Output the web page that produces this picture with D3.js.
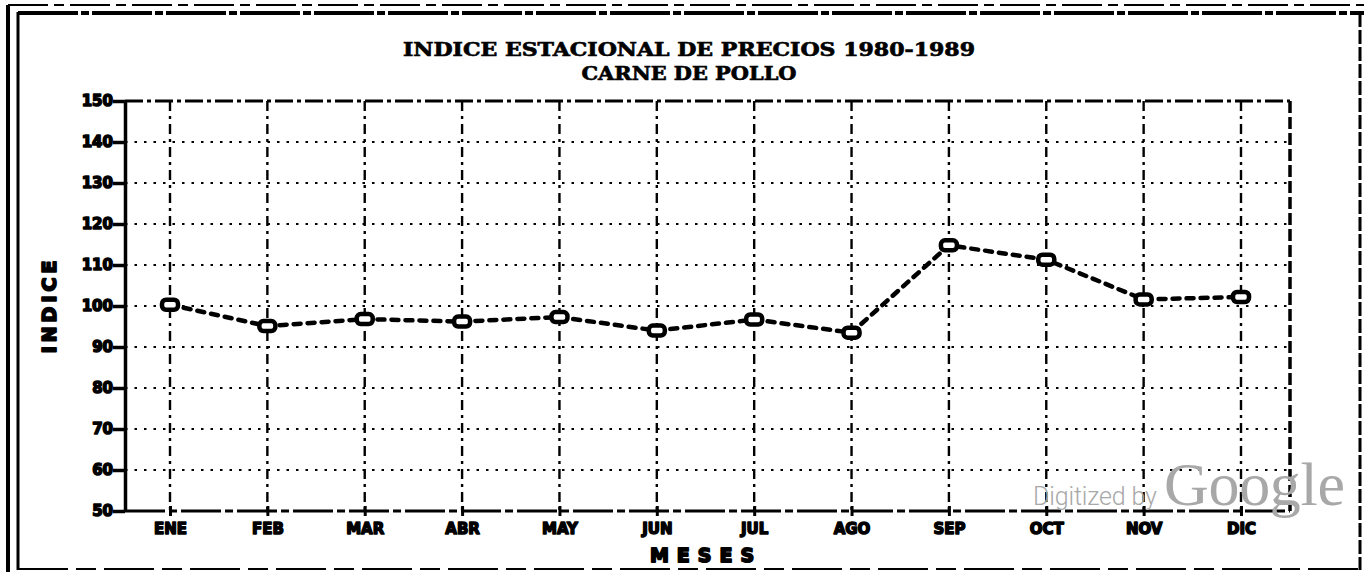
<!DOCTYPE html>
<html>
<head>
<meta charset="utf-8">
<script src="https://cdn.jsdelivr.net/npm/d3@7"></script>
<style>
  body { margin: 0; background: #fff; }
  svg { display: block; }
</style>
</head>
<body>
<div id="chart"></div>
<script>
const months = ["ENE", "FEB", "MAR", "ABR", "MAY", "JUN", "JUL", "AGO", "SEP", "OCT", "NOV", "DIC"];
const indexValues = [100.3, 95.1, 96.8, 96.2, 97.3, 94.0, 96.7, 93.5, 114.8, 111.3, 101.6, 102.2];
const yTicks = [50, 60, 70, 80, 90, 100, 110, 120, 130, 140, 150];
const titleLines = ["INDICE ESTACIONAL DE PRECIOS 1980-1989", "CARNE DE POLLO"];
const yLabel = "INDICE";
const xLabel = "MESES";

const width = 1364;
const height = 575;
const plot = { left: 125, right: 1290, top: 101, bottom: 511 };

const svg = d3.select("#chart")
    .append("svg")
    .attr("width", width)
    .attr("height", height);

const x = d3.scalePoint().domain(months).range([plot.left + 45, plot.right - 49]);
const y = d3.scaleLinear().domain([50, 150]).range([plot.bottom, plot.top]);

// page frame (scanned sheet)
const frame = svg.append("g").attr("stroke", "#000").attr("fill", "none");
frame.append("line").attr("x1", 8).attr("x2", 8).attr("y1", 5).attr("y2", 572).attr("stroke-width", 4);
frame.append("line").attr("x1", 18).attr("x2", 18).attr("y1", 12).attr("y2", 570).attr("stroke-width", 3);
frame.append("line").attr("x1", 8).attr("x2", 1364).attr("y1", 5).attr("y2", 5)
    .attr("stroke-width", 2).attr("stroke-dasharray", "40,6,10,6");
frame.append("line").attr("x1", 18).attr("x2", 1364).attr("y1", 13).attr("y2", 13)
    .attr("stroke-width", 4).attr("stroke-dasharray", "60,3,8,3");
frame.append("line").attr("x1", 1360).attr("x2", 1360).attr("y1", 13).attr("y2", 570)
    .attr("stroke-width", 3).attr("stroke-dasharray", "14,3");
frame.append("line").attr("x1", 18).attr("x2", 1364).attr("y1", 569).attr("y2", 569)
    .attr("stroke-width", 2).attr("stroke-dasharray", "50,8,20,8");

// title
const titleWidths = [572, 215];
svg.append("g")
    .selectAll("text")
    .data(titleLines)
    .join("text")
    .attr("x", 689)
    .attr("y", (d, i) => 56 + i * 24)
    .attr("text-anchor", "middle")
    .attr("textLength", (d, i) => titleWidths[i])
    .attr("lengthAdjust", "spacingAndGlyphs")
    .attr("stroke", "#000")
    .attr("stroke-width", 0.6)
    .style("font-family", "'DejaVu Serif Condensed', 'DejaVu Serif', serif")
    .style("font-weight", "bold")
    .style("font-size", "19px")
    .text(d => d);

// grid
svg.append("g")
    .selectAll("line")
    .data(yTicks.slice(1, -1))
    .join("line")
    .attr("x1", plot.left)
    .attr("x2", plot.right)
    .attr("y1", d => y(d))
    .attr("y2", d => y(d))
    .attr("stroke", "#000")
    .attr("stroke-width", 2.2)
    .attr("stroke-dasharray", "2.5,7");

svg.append("g")
    .selectAll("line")
    .data(months)
    .join("line")
    .attr("x1", d => x(d))
    .attr("x2", d => x(d))
    .attr("y1", plot.top)
    .attr("y2", plot.bottom)
    .attr("stroke", "#000")
    .attr("stroke-width", 2.4)
    .attr("stroke-dasharray", "10,5,3,5");

// plot border
svg.append("line")
    .attr("x1", plot.left).attr("x2", plot.right)
    .attr("y1", plot.top).attr("y2", plot.top)
    .attr("stroke", "#000").attr("stroke-width", 3).attr("stroke-dasharray", "18,4,4,4");
svg.append("line")
    .attr("x1", plot.right).attr("x2", plot.right)
    .attr("y1", plot.top).attr("y2", plot.bottom)
    .attr("stroke", "#000").attr("stroke-width", 3.5).attr("stroke-dasharray", "12,4");

const fontTicks = g => g.selectAll("text")
    .style("font-family", "'DejaVu Sans', sans-serif")
    .style("font-weight", "bold")
    .style("font-size", "15px")
    .attr("fill", "#000")
    .attr("stroke", "#000")
    .attr("stroke-width", 1.5)
    .attr("stroke-linejoin", "round");

svg.append("g")
    .attr("transform", `translate(${plot.left},0)`)
    .call(d3.axisLeft(y).tickValues(yTicks).tickSize(12).tickPadding(0).tickSizeOuter(0))
    .call(g => g.select(".domain").attr("stroke-width", 3.5))
    .call(g => g.selectAll(".tick line").attr("stroke-width", 3.5))
    .call(fontTicks);

svg.append("g")
    .attr("transform", `translate(0,${plot.bottom})`)
    .call(d3.axisBottom(x).tickSize(5).tickPadding(7).tickSizeOuter(0))
    .call(g => g.select(".domain").remove())
    .call(g => g.selectAll(".tick line").attr("y1", -5).attr("stroke-width", 3))
    .call(fontTicks);

svg.append("line")
    .attr("x1", plot.left).attr("x2", plot.right)
    .attr("y1", plot.bottom).attr("y2", plot.bottom)
    .attr("stroke", "#000").attr("stroke-width", 3).attr("stroke-dasharray", "40,4,8,4");

// axis titles
svg.append("text")
    .attr("transform", "translate(56,305) rotate(-90)")
    .attr("text-anchor", "middle")
    .style("font-family", "'DejaVu Sans', sans-serif")
    .style("font-weight", "bold")
    .style("font-size", "19px")
    .style("letter-spacing", "4px")
    .attr("stroke", "#000").attr("stroke-width", 1.8).attr("stroke-linejoin", "round")
    .text(yLabel);

svg.append("text")
    .attr("x", 706)
    .attr("y", 562)
    .attr("text-anchor", "middle")
    .style("font-family", "'DejaVu Sans', sans-serif")
    .style("font-weight", "bold")
    .style("font-size", "19px")
    .style("letter-spacing", "8px")
    .attr("stroke", "#000").attr("stroke-width", 1.8).attr("stroke-linejoin", "round")
    .text(xLabel);

// series
svg.append("path")
    .datum(indexValues)
    .attr("fill", "none")
    .attr("stroke", "#000")
    .attr("stroke-width", 4.5)
    .attr("stroke-linecap", "round")
    .attr("stroke-dasharray", "7,7")
    .attr("d", d3.line()
        .x((d, i) => x(months[i]))
        .y(d => y(d)));

svg.append("g")
    .selectAll("rect")
    .data(indexValues)
    .join("rect")
    .attr("x", (d, i) => x(months[i]) - 8)
    .attr("y", d => y(d) - 5)
    .attr("width", 16)
    .attr("height", 10)
    .attr("rx", 4)
    .attr("fill", "#fff")
    .attr("stroke", "#000")
    .attr("stroke-width", 4.5);

// scan watermark
svg.append("text")
    .attr("x", 1033)
    .attr("y", 505)
    .attr("fill", "#a8a8a8")
    .attr("textLength", 124)
    .style("font-family", "Roboto, 'Liberation Sans', sans-serif")
    .style("font-weight", 300)
    .style("font-size", "25px")
    .text("Digitized by");

svg.append("text")
    .attr("x", 1164)
    .attr("y", 505)
    .attr("fill", "#a8a8a8")
    .attr("textLength", 181)
    .style("font-family", "'Liberation Serif', serif")
    .style("font-size", "62px")
    .text("Google");
</script>
</body>
</html>
